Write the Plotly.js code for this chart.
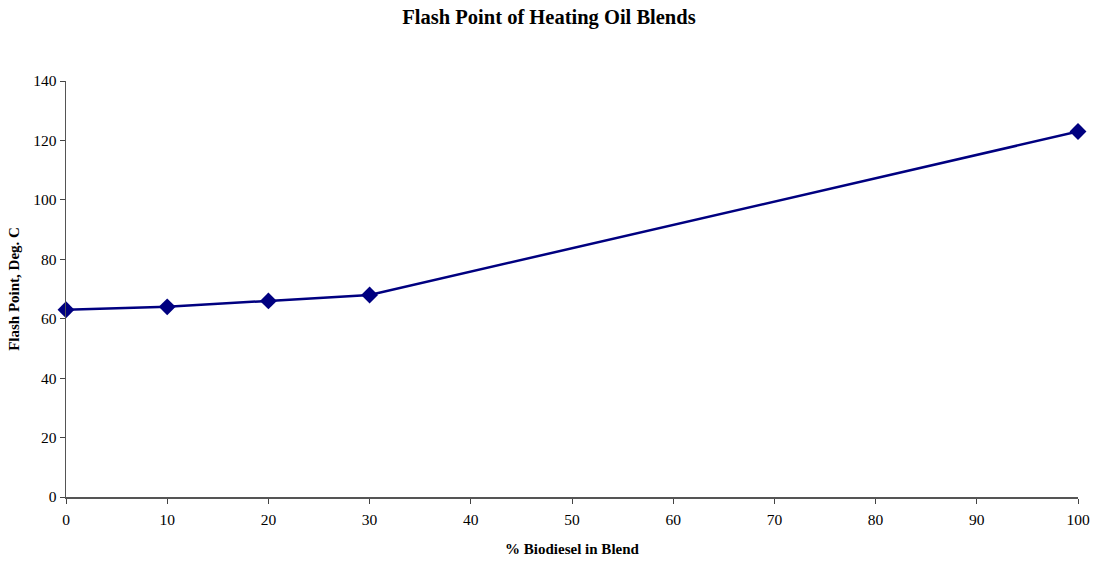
<!DOCTYPE html>
<html><head><meta charset="utf-8">
<script src="https://cdn.plot.ly/plotly-3.0.1.min.js"></script>
<style>html,body{margin:0;padding:0;background:#fff}#chart{width:1098px;height:562px}</style>
</head><body><div id="chart"></div>
<script>
const biodieselPct = [0, 10, 20, 30, 100];
const flashPoint = [63, 64, 66, 68, 123];
const xTicks = [0,10,20,30,40,50,60,70,80,90,100];
const yTicks = [0,20,40,60,80,100,120,140];

const font = 'Liberation Serif, Times New Roman, serif';
Plotly.newPlot('chart', [{
  x: biodieselPct, y: flashPoint, type: 'scatter', mode: 'lines+markers',
  line: {color: '#000080', width: 2.5},
  marker: {symbol: 'diamond', size: 13, color: '#000080'},
  cliponaxis: false, showlegend: false
}], {
  width: 1098, height: 562,
  margin: {l: 66, r: 20, t: 81, b: 65},
  paper_bgcolor: '#fff', plot_bgcolor: '#fff',
  font: {family: font, color: '#000', size: 15},
  title: {text: '<b>Flash Point of Heating Oil Blends</b>', font: {size: 20.5, family: font}, x: 0.5, xanchor: 'center', y: 0.982, yanchor: 'top'},
  xaxis: {range: [0, 100], tickvals: xTicks, ticks: 'outside', ticklen: 5, tickcolor: '#444',
    showline: true, linecolor: '#555', linewidth: 1.5, showgrid: false, zeroline: false,
    ticklabelstandoff: 3,
    tickfont: {size: 15.5}, title: {text: '<b>% Biodiesel in Blend</b>', font: {size: 15}, standoff: 16}},
  yaxis: {range: [0, 140], tickvals: yTicks, ticks: 'outside', ticklen: 5, tickcolor: '#444',
    showline: true, linecolor: '#555', linewidth: 1.5, showgrid: false, zeroline: false,
    tickfont: {size: 15.5}, title: {text: '<b>Flash Point, Deg. C</b>', font: {size: 15}, standoff: 10}}
}, {displayModeBar: false, staticPlot: true});
</script></body></html>
